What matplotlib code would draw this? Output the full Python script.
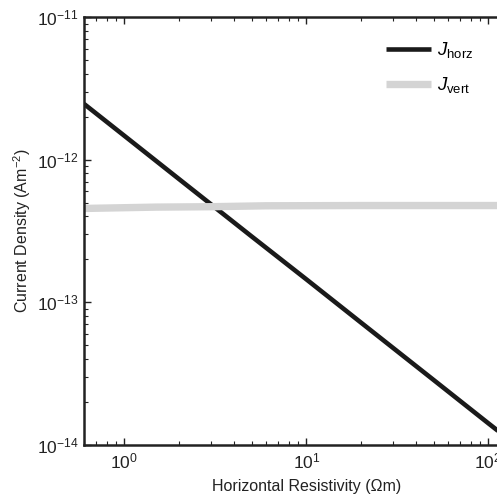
import numpy as np
import matplotlib
matplotlib.use('Agg')
import matplotlib.pyplot as plt
from matplotlib.ticker import FixedLocator, NullFormatter

plt.rcParams['font.family'] = ['Liberation Sans', 'DejaVu Sans']
plt.rcParams['mathtext.fontset'] = 'custom'
plt.rcParams['mathtext.rm'] = 'Liberation Sans'
plt.rcParams['mathtext.it'] = 'Liberation Sans:italic'
plt.rcParams['mathtext.default'] = 'regular'

# Dados
rho_horz = [0.6, 1, 2, 5, 10, 20, 50, 100, 180]
j_horz = [2.46e-12, 1.47e-12, 7.3e-13, 2.9e-13, 1.45e-13, 7.2e-14, 2.86e-14, 1.42e-14, 7.9e-15]

rho_vert = [0.6, 1.5, 3, 6, 20, 180]
j_vert = [4.55e-13, 4.65e-13, 4.68e-13, 4.75e-13, 4.77e-13, 4.77e-13]

x_ticks = [1, 10, 100]
x_ticklabels = ['$10^{0}$', '$10^{1}$', '$10^{2}$']
y_ticks = [1e-14, 1e-13, 1e-12, 1e-11]
y_ticklabels = ['$10^{-14}$', '$10^{-13}$', '$10^{-12}$', '$10^{-11}$']

fig = plt.figure(figsize=(4.97, 4.98), dpi=100)
# eixo passa da borda direita como no original
ax = fig.add_axes([84 / 497, 53 / 498, 446 / 497, 428 / 498])

ax.plot(rho_horz, j_horz, color='#1a1a1a', linewidth=3.3, label=r'$\mathit{J}_{\rm horz}$',
        solid_capstyle='butt')
ax.plot(rho_vert, j_vert, color='#d4d4d4', linewidth=5.3, label=r'$\mathit{J}_{\rm vert}$',
        solid_capstyle='butt')

ax.set_xscale('log')
ax.set_yscale('log')
ax.set_xlim(0.6, 169.5)
ax.set_ylim(1e-14, 1e-11)

ax.set_xticks(x_ticks, x_ticklabels)
ax.set_yticks(y_ticks, y_ticklabels)
minor_x = [m * d for d in [0.1, 1, 10, 100] for m in range(2, 10)]
minor_y = [m * d for d in y_ticks[:-1] for m in range(2, 10)]
ax.xaxis.set_minor_locator(FixedLocator([v for v in minor_x if 0.6 <= v <= 169.5]))
ax.yaxis.set_minor_locator(FixedLocator(minor_y))
ax.xaxis.set_minor_formatter(NullFormatter())
ax.yaxis.set_minor_formatter(NullFormatter())

ax.tick_params(which='both', direction='in', top=True, right=True, labelsize=12.5, colors='#222222')
ax.tick_params(which='major', length=5, width=1)
ax.tick_params(which='minor', length=3, width=0.8)
ax.tick_params(axis='x', pad=5)
ax.tick_params(axis='y', pad=4)

for s in ax.spines.values():
    s.set_linewidth(1.8)
    s.set_color('#222222')

ax.set_xlabel('Horizontal Resistivity (Ωm)', fontsize=11.5, color='#222222', labelpad=5)
ax.set_ylabel('Current Density (Am$^{-2}$)', fontsize=11.5, color='#222222', labelpad=3)

ax.legend(loc='upper left', bbox_to_anchor=(0.64, 0.985), frameon=False, fontsize=13.5,
          handlelength=2.4, handletextpad=0.3, labelspacing=0.8)

fig.savefig('out.png', dpi=100)
